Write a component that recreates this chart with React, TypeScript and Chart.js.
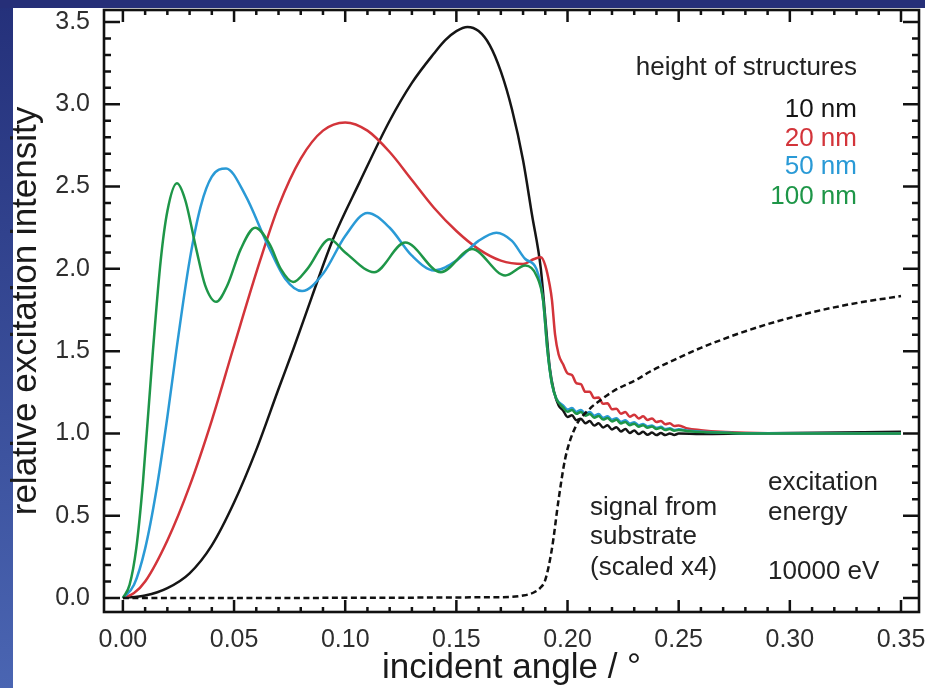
import React, { useEffect, useRef } from "react";
import { Chart, registerables } from "chart.js";

Chart.register(...registerables);

// ---------- axes ----------
const X_TICKS = [0, 0.05, 0.1, 0.15, 0.2, 0.25, 0.3, 0.35];
const Y_TICKS = [0, 0.5, 1.0, 1.5, 2.0, 2.5, 3.0, 3.5];
const X_MIN = -0.0085;
const X_MAX = 0.3581;
const Y_MIN = -0.085;
const Y_MAX = 3.573;
const X_MINOR_STEP = 0.01;
const Y_MINOR_STEP = 0.1;
const X_TITLE = "incident angle / °";
const Y_TITLE = "relative excitation intensity";

// ---------- series: 10 nm (black) ----------
const X_10 = [
  0, 0.01, 0.02, 0.03, 0.04, 0.05, 0.06, 0.07, 0.0766, 0.085, 0.0945, 0.1066, 0.12, 0.13, 0.14, 0.145,
  0.15, 0.155, 0.16, 0.165, 0.17, 0.175, 0.18, 0.184, 0.188, 0.19, 0.192, 0.194, 0.196,
  0.198, 0.2, 0.202, 0.204, 0.206, 0.208, 0.21, 0.212, 0.214, 0.216, 0.218, 0.22, 0.222, 0.224,
  0.226, 0.228, 0.23, 0.232, 0.234, 0.236, 0.238, 0.24, 0.242, 0.244, 0.246, 0.248, 0.25,
  0.26, 0.28, 0.3, 0.35,
];
const Y_10 = [
  0, 0.015, 0.06, 0.15, 0.32, 0.58, 0.9, 1.27, 1.51, 1.83, 2.18, 2.53, 2.9, 3.13, 3.31, 3.39,
  3.445, 3.47, 3.445, 3.36, 3.2, 2.97, 2.66, 2.33, 2.0, 1.7, 1.4, 1.25, 1.17,
  1.14, 1.1, 1.11, 1.08, 1.09, 1.062, 1.075, 1.048, 1.062, 1.036, 1.05, 1.024, 1.038, 1.012,
  1.027, 1.003, 1.018, 0.996, 1.01, 0.992, 1.005, 0.99, 1.002, 0.99, 1.0, 0.991, 0.999,
  0.997, 1.0, 1.002, 1.01,
];

// ---------- series: 20 nm (red) ----------
const X_20 = [
  0, 0.005, 0.01, 0.02, 0.03, 0.04, 0.0495, 0.0617, 0.07, 0.08, 0.09, 0.1, 0.11, 0.12, 0.13, 0.14,
  0.15, 0.16, 0.17, 0.18, 0.185, 0.188, 0.19, 0.192, 0.193, 0.1944, 0.196,
  0.198, 0.2, 0.202, 0.204, 0.206, 0.208, 0.21, 0.212, 0.214, 0.216, 0.218, 0.22, 0.222, 0.224,
  0.226, 0.228, 0.23, 0.232, 0.234, 0.236, 0.238, 0.24, 0.242, 0.244, 0.246, 0.248, 0.25,
  0.254, 0.26, 0.269, 0.28, 0.3, 0.35,
];
const Y_20 = [
  0, 0.03, 0.1, 0.35, 0.68, 1.08, 1.51, 2.05, 2.38, 2.67, 2.84, 2.89, 2.84, 2.71, 2.54, 2.37,
  2.23, 2.12, 2.05, 2.03, 2.06, 2.07, 2.02, 1.9, 1.81, 1.6, 1.48,
  1.42, 1.365, 1.355, 1.305, 1.3, 1.253, 1.253, 1.215, 1.218, 1.18, 1.183, 1.147, 1.15, 1.12,
  1.13, 1.102, 1.114, 1.091, 1.104, 1.082, 1.091, 1.069, 1.076, 1.056, 1.062, 1.045, 1.049,
  1.03, 1.02, 1.01, 1.004, 1.0, 1.0,
];

// ---------- series: 50 nm (blue) ----------
const X_50 = [
  0, 0.005, 0.01, 0.015, 0.02, 0.024, 0.03, 0.035, 0.04, 0.0464, 0.055, 0.065, 0.073, 0.0806,
  0.09, 0.1, 0.11, 0.12, 0.13, 0.14, 0.15, 0.16, 0.168, 0.175, 0.181, 0.186, 0.189, 0.191, 0.193,
  0.195,
  0.198, 0.2, 0.202, 0.204, 0.206, 0.208, 0.21, 0.212, 0.214, 0.216, 0.218, 0.22, 0.222, 0.224,
  0.226, 0.228, 0.23, 0.232, 0.234, 0.236, 0.238, 0.24, 0.242, 0.244, 0.246, 0.248, 0.25,
  0.255, 0.261, 0.27, 0.28, 0.35,
];
const Y_50 = [
  0, 0.08, 0.3, 0.65, 1.1, 1.5, 2.05, 2.38, 2.56, 2.61, 2.45, 2.15, 1.94, 1.865,
  1.97, 2.2, 2.34, 2.25, 2.08, 1.99, 2.05, 2.17, 2.22, 2.17, 2.06, 2.0, 1.81, 1.5, 1.3,
  1.21,
  1.17, 1.145, 1.155, 1.131, 1.143, 1.12, 1.13, 1.108, 1.118, 1.095, 1.105, 1.083, 1.093, 1.071,
  1.08, 1.06, 1.068, 1.05, 1.058, 1.042, 1.049, 1.034, 1.04, 1.027, 1.032, 1.021, 1.025,
  1.016, 1.01, 1.005, 1.001, 1.0,
];

// ---------- series: 100 nm (green) ----------
const X_100 = [
  0, 0.003, 0.006, 0.009, 0.0135, 0.017, 0.02, 0.0243, 0.028, 0.033, 0.037, 0.042, 0.047, 0.053,
  0.0595, 0.066, 0.071, 0.0766, 0.083, 0.093, 0.1, 0.113, 0.127, 0.143, 0.157, 0.172, 0.181,
  0.186, 0.189, 0.191, 0.193, 0.195,
  0.198, 0.2, 0.202, 0.204, 0.206, 0.208, 0.21, 0.212, 0.214, 0.216, 0.218, 0.22, 0.222, 0.224,
  0.226, 0.228, 0.23, 0.232, 0.234, 0.236, 0.238, 0.24, 0.242, 0.244, 0.246, 0.248, 0.25,
  0.255, 0.261, 0.27, 0.28, 0.35,
];
const Y_100 = [
  0, 0.08, 0.3, 0.7, 1.5, 2.05, 2.35, 2.52, 2.42, 2.12, 1.9, 1.8, 1.9, 2.12,
  2.25, 2.15, 2.0, 1.92, 2.0, 2.18, 2.1, 1.98, 2.16, 1.98, 2.12, 1.96, 2.02,
  1.96, 1.81, 1.5, 1.3, 1.21,
  1.158, 1.132, 1.142, 1.119, 1.131, 1.108, 1.118, 1.096, 1.106, 1.084, 1.094, 1.073, 1.083, 1.061,
  1.07, 1.05, 1.059, 1.041, 1.05, 1.034, 1.042, 1.027, 1.034, 1.021, 1.027, 1.016, 1.021,
  1.013, 1.008, 1.004, 1.0, 1.0,
];

// ---------- substrate signal (dashed) ----------
const X_SUB = [
  0, 0.17, 0.18, 0.185, 0.188, 0.19, 0.193, 0.196, 0.199, 0.2036, 0.21, 0.2146, 0.221, 0.2315,
  0.237, 0.25, 0.26, 0.282, 0.305, 0.327, 0.35,
];
const Y_SUB = [
  0, 0.005, 0.015, 0.035, 0.065, 0.11, 0.3, 0.6, 0.85, 1.04, 1.15, 1.2, 1.26, 1.33,
  1.375, 1.46, 1.52, 1.63, 1.72, 1.785, 1.835,
];

// ---------- legend / annotation text ----------
const LEGEND_TITLE = "height of structures";
const SERIES_LABELS = ["10 nm", "20 nm", "50 nm", "100 nm"];
const SERIES_COLORS = ["#151515", "#d3343a", "#2a9ad6", "#1e9648"];
const SUBSTRATE_LINES = ["signal from", "substrate", "(scaled x4)"];
const ENERGY_LINES = ["excitation", "energy", "10000 eV"];

const FONT = "'Liberation Sans', Arial, Helvetica, sans-serif";
const TEXT_COLOR = "#222222";

const pts = (xs: number[], ys: number[]) => xs.map((x, i) => ({ x, y: ys[i] }));

const frameTicks = {
  id: "frameTicks",
  afterDatasetsDraw(chart: any) {
    const { ctx, chartArea: a, scales } = chart;
    const xs = scales.x;
    const ys = scales.y;
    ctx.save();
    ctx.strokeStyle = "#111";
    ctx.lineWidth = 2.5;
    ctx.lineCap = "butt";
    ctx.beginPath();
    const nx = Math.round((X_TICKS[X_TICKS.length - 1] - X_TICKS[0]) / X_MINOR_STEP);
    for (let i = 0; i <= nx; i++) {
      const v = X_TICKS[0] + i * X_MINOR_STEP;
      const px = xs.getPixelForValue(v);
      const len = i % 5 === 0 ? 12 : 5;
      ctx.moveTo(px, a.bottom);
      ctx.lineTo(px, a.bottom - len);
      ctx.moveTo(px, a.top);
      ctx.lineTo(px, a.top + len);
    }
    const ny = Math.round((Y_TICKS[Y_TICKS.length - 1] - Y_TICKS[0]) / Y_MINOR_STEP);
    for (let i = 0; i <= ny; i++) {
      const v = Y_TICKS[0] + i * Y_MINOR_STEP;
      const py = ys.getPixelForValue(v);
      const len = i % 5 === 0 ? 16 : 7;
      ctx.moveTo(a.left, py);
      ctx.lineTo(a.left + len, py);
      ctx.moveTo(a.right, py);
      ctx.lineTo(a.right - len, py);
    }
    ctx.stroke();
    ctx.lineWidth = 2.6;
    ctx.strokeRect(a.left, a.top, a.right - a.left, a.bottom - a.top);
    ctx.restore();
  },
};

const annotations = {
  id: "annotations",
  afterDraw(chart: any) {
    const { ctx, scales } = chart;
    const X = (v: number) => scales.x.getPixelForValue(v);
    const Y = (v: number) => scales.y.getPixelForValue(v);
    ctx.save();
    ctx.font = `26px ${FONT}`;
    ctx.textBaseline = "middle";
    ctx.textAlign = "right";
    ctx.fillStyle = TEXT_COLOR;
    ctx.fillText(LEGEND_TITLE, X(0.3302), Y(3.222));
    const legendY = [2.967, 2.79, 2.62, 2.438];
    SERIES_LABELS.forEach((t, i) => {
      ctx.fillStyle = SERIES_COLORS[i];
      ctx.fillText(t, X(0.3302), Y(legendY[i]));
    });
    ctx.textAlign = "left";
    ctx.fillStyle = TEXT_COLOR;
    const subY = [0.547, 0.371, 0.182];
    SUBSTRATE_LINES.forEach((t, i) => ctx.fillText(t, X(0.2101), Y(subY[i])));
    const enY = [0.699, 0.517, 0.158];
    ENERGY_LINES.forEach((t, i) => ctx.fillText(t, X(0.2902), Y(enY[i])));
    ctx.restore();
  },
};

export default function App() {
  const ref = useRef<HTMLCanvasElement | null>(null);

  useEffect(() => {
    if (!ref.current) return;
    const line = (data: any, color: string, extra: any = {}) => ({
      data,
      borderColor: color,
      backgroundColor: color,
      borderWidth: 2.5,
      pointRadius: 0,
      fill: false,
      cubicInterpolationMode: "monotone",
      ...extra,
    });
    const chart = new Chart(ref.current, {
      type: "line",
      data: {
        datasets: [
          line(pts(X_SUB, Y_SUB), "#111", { borderDash: [6, 3.5], label: "signal from substrate (scaled x4)" }),
          line(pts(X_100, Y_100), SERIES_COLORS[3], { label: SERIES_LABELS[3] }),
          line(pts(X_50, Y_50), SERIES_COLORS[2], { label: SERIES_LABELS[2] }),
          line(pts(X_20, Y_20), SERIES_COLORS[1], { label: SERIES_LABELS[1] }),
          line(pts(X_10, Y_10), SERIES_COLORS[0], { label: SERIES_LABELS[0] }),
        ],
      },
      options: {
        animation: false,
        responsive: false,
        devicePixelRatio: 1,
        parsing: false,
        layout: { padding: { top: 10, right: 6, left: 0, bottom: 0 } },
        plugins: { legend: { display: false }, tooltip: { enabled: false } },
        scales: {
          x: {
            type: "linear",
            min: X_MIN,
            max: X_MAX,
            border: { display: false },
            grid: { display: false, drawTicks: false },
            afterBuildTicks: (s: any) => {
              s.ticks = X_TICKS.map((v) => ({ value: v }));
            },
            afterFit: (s: any) => {
              s.height = 76;
              s.paddingLeft = 0;
              s.paddingRight = 0;
              s.paddingTop = 0;
              s.paddingBottom = 0;
            },
            ticks: {
              padding: 13,
              autoSkip: false,
              maxRotation: 0,
              color: "#2e2e2e",
              font: { family: FONT, size: 25 },
              callback: (v: any) => Number(v).toFixed(2),
            },
            title: {
              display: true,
              text: X_TITLE,
              color: "#1a1a1a",
              font: { family: FONT, size: 35, lineHeight: 1.1 },
              padding: 0,
            },
          },
          y: {
            type: "linear",
            min: Y_MIN,
            max: Y_MAX,
            border: { display: false },
            grid: { display: false, drawTicks: false },
            afterBuildTicks: (s: any) => {
              s.ticks = Y_TICKS.map((v) => ({ value: v }));
            },
            afterFit: (s: any) => {
              s.width = 104;
              s.paddingLeft = 0;
              s.paddingRight = 0;
              s.paddingTop = 0;
              s.paddingBottom = 0;
            },
            ticks: {
              padding: 14,
              autoSkip: false,
              color: "#2e2e2e",
              font: { family: FONT, size: 25 },
              callback: (v: any) => Number(v).toFixed(1),
            },
            title: {
              display: true,
              text: Y_TITLE,
              color: "#1a1a1a",
              font: { family: FONT, size: 35, lineHeight: 1.52 },
              padding: 0,
            },
          },
        },
      },
      plugins: [frameTicks, annotations],
    } as any);
    return () => chart.destroy();
  }, []);

  return (
    <div
      style={{
        position: "fixed",
        left: 0,
        top: 0,
        width: 925,
        height: 688,
        background:
          "linear-gradient(#262f78, #262f78) left top / 100% 8px no-repeat, linear-gradient(to bottom, #24307a, #4a65b2) left top / 13px 100% no-repeat, #ffffff",
      }}
    >
      <canvas ref={ref} width={925} height={688} style={{ display: "block", width: 925, height: 688 }} />
    </div>
  );
}
